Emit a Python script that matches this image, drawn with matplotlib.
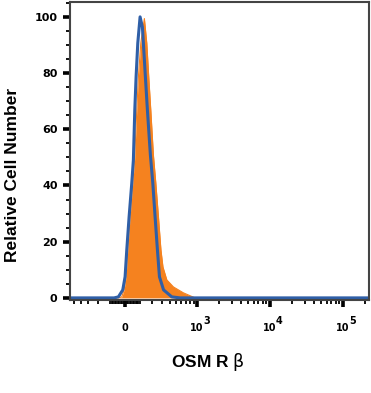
import numpy as np
import matplotlib
matplotlib.use("Agg")
import matplotlib.pyplot as plt
from matplotlib.transforms import blended_transform_factory

# histogram outlines (fluorescence value, % of max)
iso_x = [-74, -44.5, -15.2, 0, 11.2, 26.5, 44.5, 55.3, 65, 74, 86, 102.6,
         119.8, 127.4, 143.2, 159.5, 185, 206.8, 228.7, 252, 273.6, 320.5, 432, 573]
iso_y = [0, 0.36, 2.85, 7.5, 17.1, 28.8, 40.9, 49.1, 66.9, 78.6, 90.7, 100,
         96.4, 90.7, 78.6, 66.9, 50.9, 40.9, 28.8, 17.1, 7.5, 2.85, 0.36, 0]

stain_x = [-40, -21.8, -6.6, 6.6, 17.8, 33.1, 51.3, 63.6, 78.9, 90.3, 107.8, 135.2,
           154.4, 171, 188.5, 212.4, 235.8, 263, 290, 313.5, 361.8, 457, 640.5, 940]
stain_y = [0, 0.36, 2.85, 7.5, 17.1, 28.8, 40.9, 49.1, 66.9, 78.6, 90.7, 99.4,
           90.7, 78.6, 66.9, 50.9, 40.9, 28.8, 17.1, 11.0, 6.4, 3.9, 1.8, 0]

x_lo, x_hi = -573, 230000
major_ticks = [0, 1e3, 1e4, 1e5]
major_labels = ["0", "10", "10", "10"]
exponents = ["", "3", "4", "5"]

plt.rcParams["font.family"] = ["Liberation Sans", "DejaVu Sans"]

fig = plt.figure(figsize=(3.71, 3.93), dpi=100)
ax = fig.add_axes([0.189, 0.237, 0.806, 0.758])
ax.set_xscale("asinh", linear_width=209)

orange = "#F5821F"
blue = "#2F5FA7"

sx = [x_lo] + stain_x + [x_hi]
sy = [0] + stain_y + [0]
ax.fill_between(sx, sy, 0, color=orange, linewidth=0)
ax.plot(sx, sy, color=orange, lw=0.8)

bx = [x_lo] + iso_x + [x_hi]
by = [0] + iso_y + [0]
ax.plot(bx, by, color=blue, lw=2.2, solid_joinstyle="round")

ax.set_xlim(x_lo, x_hi)
ax.set_ylim(-0.7, 105.3)

minor = []
for n in [1, 2]:
    for k in range(1, 10):
        minor.append(-k * 10**n)
for n in [1, 2, 3, 4, 5]:
    for k in range(2 if n >= 3 else 1, 10):
        v = k * 10**n
        if v < x_hi:
            minor.append(v)
ax.set_xticks(major_ticks)
ax.set_xticklabels(major_labels)
ax.set_xticks([m for m in minor if m > x_lo], minor=True)

ax.set_yticks(np.arange(0, 101, 20))
ax.set_yticks(np.arange(0, 106, 5), minor=True)

ax.tick_params(axis="both", which="major", length=5, width=2.6, color="black")
ax.tick_params(axis="both", which="minor", length=3, width=1.3, color="black")
ax.tick_params(axis="x", which="major", pad=12, labelsize=7)
ax.tick_params(axis="y", which="major", pad=4, labelsize=8)
for lab in ax.get_xticklabels() + ax.get_yticklabels():
    lab.set_fontweight("bold")
    lab.set_family("DejaVu Sans")

# exponents of the decade labels
tr = blended_transform_factory(ax.transData, ax.transAxes)
for pos, e in zip(major_ticks, exponents):
    if e:
        ax.annotate(e, xy=(pos, 0), xycoords=tr, xytext=(7.0, -15.5),
                    textcoords="offset points", ha="center", va="center",
                    fontsize=7, fontweight="bold", family="DejaVu Sans")

for s in ax.spines.values():
    s.set_color("#444444")
    s.set_linewidth(1.5)

ax.set_ylabel("Relative Cell Number", fontsize=12.5, fontweight="bold")
ax.yaxis.set_label_coords(-0.169, 0.419)
ax.set_xlabel(r"OSM R $\mathrm{\beta}$", fontsize=12.5, fontweight="bold")
ax.xaxis.set_label_coords(0.46, -0.171)

fig.savefig("out.png", dpi=100)
